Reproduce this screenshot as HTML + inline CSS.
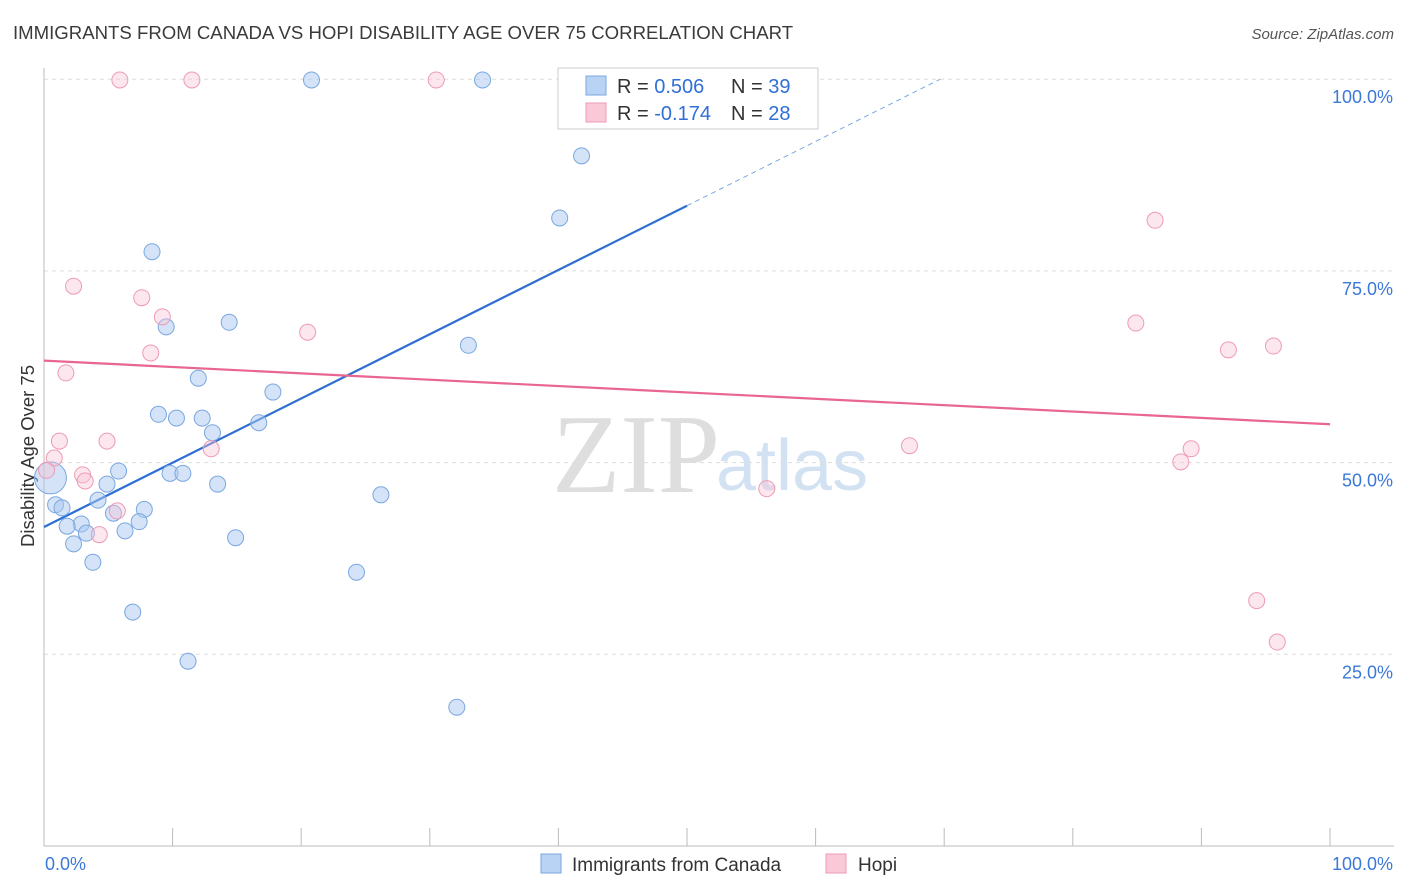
<!DOCTYPE html>
<html><head><meta charset="utf-8"><style>
body{margin:0;background:#fff;font-family:"Liberation Sans",sans-serif;}
svg{display:block}
</style></head><body>
<svg id="chart" width="1406" height="892">
<text x="13" y="39" font-size="18.6" fill="#3a3a3a">IMMIGRANTS FROM CANADA VS HOPI DISABILITY AGE OVER 75 CORRELATION CHART</text>
<text x="1394" y="39" font-size="15" fill="#555" font-style="italic" text-anchor="end">Source: ZipAtlas.com</text>
<text x="34" y="456" font-size="18.5" fill="#333" text-anchor="middle" transform="rotate(-90 34 456)">Disability Age Over 75</text>
<text x="552" y="492" font-size="112" fill="#dedede" font-family="Liberation Serif,serif">ZIP</text>
<text x="716" y="490" font-size="72" fill="#d3e2f3">atlas</text>
<g id="grid"></g><g id="axes"></g><g id="lines"></g><g id="pts"></g>
<g>
<rect x="558" y="68" width="260" height="61" fill="#fff" stroke="#ccc"/>
<rect x="586" y="76" width="20" height="19" fill="#b9d3f5" stroke="#7aa7e0"/>
<rect x="586" y="103" width="20" height="19" fill="#f9c9d8" stroke="#ee9bb5"/>
<text x="617" y="93" font-size="20" fill="#333">R = <tspan fill="#2f6fd6">0.506</tspan></text>
<text x="731" y="93" font-size="20" fill="#333">N = <tspan fill="#2f6fd6">39</tspan></text>
<text x="617" y="120" font-size="20" fill="#333">R = <tspan fill="#2f6fd6">-0.174</tspan></text>
<text x="731" y="120" font-size="20" fill="#333">N = <tspan fill="#2f6fd6">28</tspan></text>
</g>
<g>
<rect x="541" y="854" width="20" height="19" fill="#b9d3f5" stroke="#7aa7e0"/>
<text x="572" y="871" font-size="19" fill="#333">Immigrants from Canada</text>
<rect x="826" y="854" width="20" height="19" fill="#f9c9d8" stroke="#ee9bb5"/>
<text x="858" y="871" font-size="19" fill="#333">Hopi</text>
</g>
</svg>
<script>
const yTicks=[25,50,75,100];
const yTickLabels=["25.0%","50.0%","75.0%","100.0%"];
const xTickLabels=["0.0%","100.0%"];
const blueX=[20.8,34.1,41.8,40.1,8.4,14.4,9.5,33.0,12.0,17.8,8.9,10.3,12.3,16.7,13.1,5.8,9.8,10.8,4.9,13.5,26.2,4.2,0.9,1.4,7.8,5.4,7.4,2.9,1.8,3.3,6.3,14.9,2.3,3.8,24.3,6.9,11.2,32.1,0.5];
const blueY=[99.9,99.9,90.0,81.9,77.5,68.3,67.7,65.3,61.0,59.2,56.3,55.8,55.8,55.2,53.9,48.9,48.6,48.6,47.2,47.2,45.8,45.1,44.5,44.1,43.9,43.4,42.3,42.0,41.7,40.8,41.1,40.2,39.4,37.0,35.7,30.5,24.1,18.1,48.0];
const pinkX=[5.9,11.5,30.5,86.4,2.3,7.6,9.2,20.5,84.9,8.3,92.1,95.6,1.7,1.2,4.9,13.0,67.3,89.2,88.4,0.8,3.0,3.2,56.2,5.7,4.3,94.3,95.9,0.2];
const pinkY=[99.9,99.9,99.9,81.6,73.0,71.5,69.0,67.0,68.2,64.3,64.7,65.2,61.7,52.8,52.8,51.8,52.2,51.8,50.1,50.6,48.4,47.6,46.6,43.7,40.6,32.0,26.6,49.0];
const blueTrend=[41.6,0.838]; // intercept, slope
const pinkTrend=[63.3,-0.083];
const NS="http://www.w3.org/2000/svg";
const sx=v=>44+v*12.86, sy=v=>846-v*7.668;
function mk(tag,attrs,parent){const e=document.createElementNS(NS,tag);for(const k in attrs)e.setAttribute(k,attrs[k]);document.getElementById(parent).appendChild(e);return e;}
yTicks.forEach((t,i)=>{
 const l=mk('line',{x1:44,x2:1394,y1:sy(t),y2:sy(t),stroke:'#ddd','stroke-dasharray':'4,4'},'grid');
 
 
 const tx=mk('text',{x:1393,y:sy(t)+24,'font-size':18,fill:'#3b78d8','text-anchor':'end'},'axes');
 tx.textContent=yTickLabels[i];
 
 
});
mk('line',{x1:44,x2:44,y1:68,y2:846,stroke:'#bbb'},'axes');
mk('line',{x1:44,x2:1394,y1:846,y2:846,stroke:'#bbb'},'axes');
for(let i=0;i<=10;i++){const t=mk('line',{x1:sx(i*10),x2:sx(i*10),y1:828,y2:846,stroke:'#bbb'},'axes');}
[[0,'start',45],[100,'end',1393]].forEach((a,i)=>{const t=mk('text',{x:a[2],y:870,'font-size':18,fill:'#3b78d8','text-anchor':a[1]},'axes');t.textContent=xTickLabels[i];});
let bl=mk('line',{x1:sx(0),y1:sy(blueTrend[0]),x2:sx(50),y2:sy(blueTrend[0]+50*blueTrend[1]),stroke:'#2a6fd6','stroke-width':2.2},'lines');


const xe=(100-blueTrend[0])/blueTrend[1];
let bd=mk('line',{x1:sx(50),y1:sy(blueTrend[0]+50*blueTrend[1]),x2:sx(xe),y2:sy(100),stroke:'#7aa7e0','stroke-width':1,'stroke-dasharray':'5,4'},'lines');


let pl=mk('line',{x1:sx(0),y1:sy(pinkTrend[0]),x2:sx(100),y2:sy(pinkTrend[0]+100*pinkTrend[1]),stroke:'#e8668f','stroke-width':2.2},'lines');


blueX.forEach((x,i)=>{
 const big=i===blueX.length-1;
 const c=mk('circle',{cx:sx(x),cy:sy(blueY[i]),r:big?16:8,fill:'rgba(170,200,240,0.5)',stroke:'#7aa7e0','stroke-width':1},'pts');
 
 
});
pinkX.forEach((x,i)=>{
 const c=mk('circle',{cx:sx(x),cy:sy(pinkY[i]),r:8,fill:'rgba(248,195,212,0.4)',stroke:'#ee9bb5','stroke-width':1},'pts');
 
 
});
</script>
</body></html>
